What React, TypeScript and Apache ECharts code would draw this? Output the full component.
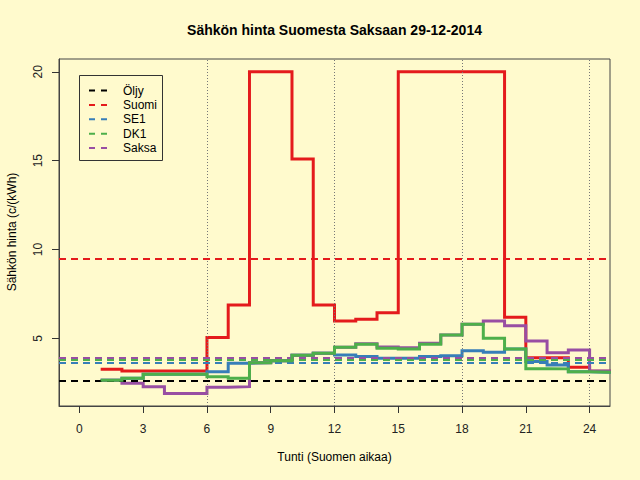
import React, { useEffect, useRef } from "react";
import * as echarts from "echarts";

const hours = [1, 2, 3, 4, 5, 6, 7, 8, 9, 10, 11, 12, 13, 14, 15, 16, 17, 18, 19, 20, 21, 22, 23, 24, 25];
const suomi = [3.26, 3.16, 3.16, 3.16, 3.16, 5.04, 6.88, 20.0, 20.0, 15.09, 6.88, 5.98, 6.07, 6.44, 20.0, 20.0, 20.0, 20.0, 20.0, 6.18, 3.91, 3.91, 3.37, 3.15, 3.15];
const se1 = [2.64, 2.75, 2.98, 2.98, 2.98, 3.12, 3.6, 3.63, 3.74, 4.05, 4.16, 4.06, 3.97, 3.88, 3.88, 3.97, 4.02, 4.3, 4.21, 4.4, 3.69, 3.5, 3.12, 3.09, 3.09];
const dk1 = [2.64, 2.75, 2.98, 2.98, 2.98, 2.84, 2.75, 3.63, 3.74, 4.05, 4.16, 4.5, 4.67, 4.44, 4.4, 4.67, 5.19, 5.79, 5.0, 4.4, 3.29, 3.28, 3.12, 3.09, 3.09];
const saksa = [2.64, 2.47, 2.28, 1.9, 1.9, 2.25, 2.28, 3.63, 3.74, 4.05, 4.16, 4.5, 4.7, 4.51, 4.47, 4.72, 5.19, 5.79, 5.98, 5.71, 4.85, 4.19, 4.34, 3.16, 3.16];

const legendNames = ["Öljy", "Suomi", "SE1", "DK1", "Saksa"];
const averages = [2.6, 9.47, 3.65, 3.8, 3.91];
const xTicks = [0, 3, 6, 9, 12, 15, 18, 21, 24];
const yTicks = [5, 10, 15, 20];
const dayMarks = [6, 12, 18, 24];

const colors = ["#000000", "#E41A1C", "#377EB8", "#4DAF4A", "#984EA3"];
const FONT = '"Liberation Sans", Arial, sans-serif';

function pairs(vals: number[]) {
  return hours.map((h, i) => [h, vals[i]]);
}

export default function App() {
  const ref = useRef<HTMLDivElement>(null);
  useEffect(() => {
    document.body.style.margin = "0";
    const chart = echarts.init(ref.current!, null, { renderer: "svg" });

    const stepSeries = (name: string, vals: number[], color: string, z: number) => ({
      type: "line",
      name,
      step: "end",
      data: pairs(vals),
      showSymbol: false,
      symbol: "none",
      z,
      lineStyle: { color, width: 3, join: "miter", cap: "butt" },
      silent: true,
    });

    const legendGraphics: any[] = [
      {
        type: "rect",
        shape: { x: 79.5, y: 75.5, width: 83, height: 85 },
        style: { fill: "#FFFACD", stroke: "#333", lineWidth: 1 },
        z: 100,
      },
    ];
    legendNames.forEach((n, i) => {
      const ry = 90.5 + i * 14.4;
      legendGraphics.push({
        type: "line",
        shape: { x1: 89, y1: ry, x2: 109, y2: ry },
        style: { stroke: colors[i], lineWidth: 2, lineDash: [6, 6] },
        z: 101,
      });
      legendGraphics.push({
        type: "text",
        x: 123,
        y: ry,
        style: { text: n, font: `12px ${FONT}`, fill: "#000", textVerticalAlign: "middle" },
        z: 101,
      });
    });

    const option: any = {
      animation: false,
      backgroundColor: "#FFFACD",
      grid: {
        left: 59,
        right: 30,
        top: 59,
        bottom: 74,
        show: true,
        borderColor: "#444",
        borderWidth: 1,
        backgroundColor: "transparent",
      },
      xAxis: {
        type: "value",
        min: -0.96,
        max: 24.96,
        axisLine: { show: true, onZero: false, lineStyle: { color: "#444" } },
        splitLine: { show: false },
        axisTick: { show: true, length: 7, customValues: xTicks, lineStyle: { color: "#333" } },
        axisLabel: { customValues: xTicks, margin: 17, fontSize: 12, color: "#222", fontFamily: FONT },
      },
      yAxis: {
        type: "value",
        min: 1.19,
        max: 20.72,
        axisLine: { show: true, onZero: false, lineStyle: { color: "#444" } },
        splitLine: { show: false },
        axisTick: { show: true, length: 7, customValues: yTicks, lineStyle: { color: "#333" } },
        axisLabel: { customValues: yTicks, rotate: 90, margin: 15, fontSize: 12, color: "#222", fontFamily: FONT },
      },
      series: [
        {
          type: "line",
          name: "guides",
          data: [],
          z: 1,
          markLine: {
            silent: true,
            symbol: ["none", "none"],
            label: { show: false },
            lineStyle: { color: "#777", width: 1, type: [1, 2] },
            data: dayMarks.map((d) => ({ xAxis: d })),
          },
        },
        stepSeries("Suomi", suomi, colors[1], 2),
        stepSeries("SE1", se1, colors[2], 3),
        stepSeries("Saksa", saksa, colors[4], 4),
        stepSeries("DK1", dk1, colors[3], 5),
        {
          type: "line",
          name: "averages",
          data: [],
          z: 6,
          markLine: {
            silent: true,
            symbol: ["none", "none"],
            label: { show: false },
            data: averages.map((v, i) => ({
              yAxis: v,
              lineStyle: { color: colors[i], width: 2, type: [7, 5] },
            })),
          },
        },
      ],
      graphic: [
        {
          type: "text",
          x: 334.5,
          y: 30,
          style: {
            text: "Sähkön hinta Suomesta Saksaan 29-12-2014",
            font: `bold 14px ${FONT}`,
            fill: "#000",
            textAlign: "center",
            textVerticalAlign: "middle",
          },
        },
        {
          type: "text",
          x: 334.5,
          y: 457,
          style: {
            text: "Tunti (Suomen aikaa)",
            font: `12px ${FONT}`,
            fill: "#000",
            textAlign: "center",
            textVerticalAlign: "middle",
          },
        },
        {
          type: "text",
          x: 12,
          y: 232,
          rotation: Math.PI / 2,
          style: {
            text: "Sähkön hinta (c/(kWh)",
            font: `12px ${FONT}`,
            fill: "#000",
            textAlign: "center",
            textVerticalAlign: "middle",
          },
        },
        ...legendGraphics,
      ],
    };

    chart.setOption(option);
    return () => chart.dispose();
  }, []);
  return <div ref={ref} style={{ width: 640, height: 480 }} />;
}
